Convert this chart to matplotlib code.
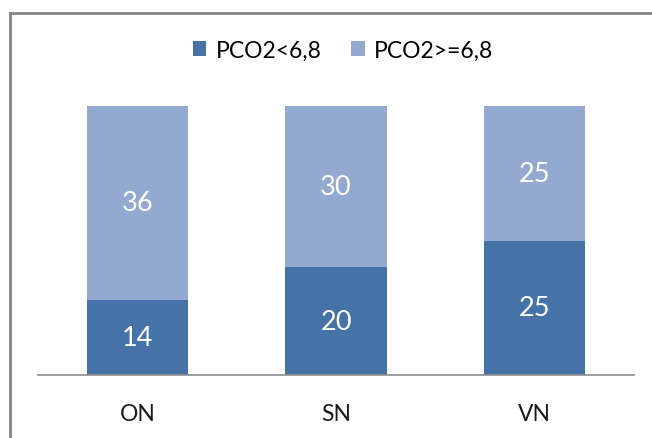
import matplotlib.pyplot as plt
from matplotlib.lines import Line2D
import numpy as np

categories = ['ON', 'SN', 'VN']
low = [14, 20, 25]      # PCO2<6,8
high = [36, 30, 25]     # PCO2>=6,8
series_names = ['PCO2<6,8', 'PCO2>=6,8']

DARK = '#4572A7'
LIGHT = '#93A9CF'
FONT = 'Lato'

W, H = 652, 439
fig = plt.figure(figsize=(W / 100, H / 100), dpi=100)
ax = fig.add_axes([38 / W, 1 - 376 / H, (634 - 38) / W, (376 - 107) / H])

x = np.arange(len(categories))
b1 = ax.bar(x, low, width=0.51, color=DARK, label=series_names[0])
b2 = ax.bar(x, high, width=0.51, bottom=low, color=LIGHT, label=series_names[1])

for bars in (b1, b2):
    ax.bar_label(bars, label_type='center', color='white', fontsize=19.5, family=FONT)

ax.set_xlim(-0.5, len(categories) - 0.5)
ax.set_ylim(0, 50)
ax.set_xticks(x)
ax.set_xticklabels(categories, family=FONT, fontsize=16.5, color='#1a1a1a')
ax.tick_params(axis='x', length=0, pad=20)
ax.set_yticks([])
for s in ['top', 'right', 'left']:
    ax.spines[s].set_visible(False)
ax.spines['bottom'].set_color('#8c8c8c')
ax.spines['bottom'].set_linewidth(1.2)

fig.legend(handles=[b1, b2], labels=series_names, loc='center', bbox_to_anchor=(343 / W, 1 - 51 / H),
           ncol=2, frameon=False, prop={'family': FONT, 'size': 16.5},
           handlelength=0.6, handleheight=0.6, handletextpad=0.4, columnspacing=1.3)

# outer chart border: only the left and top edges fall inside the picture
bx, by = 9.5 / W, 1 - 13.5 / H
fig.add_artist(Line2D([bx, 1.01], [by, by], transform=fig.transFigure, color='#868686', linewidth=2))
fig.add_artist(Line2D([bx, bx], [by, -0.01], transform=fig.transFigure, color='#868686', linewidth=2))

fig.savefig('out.png', dpi=100)
